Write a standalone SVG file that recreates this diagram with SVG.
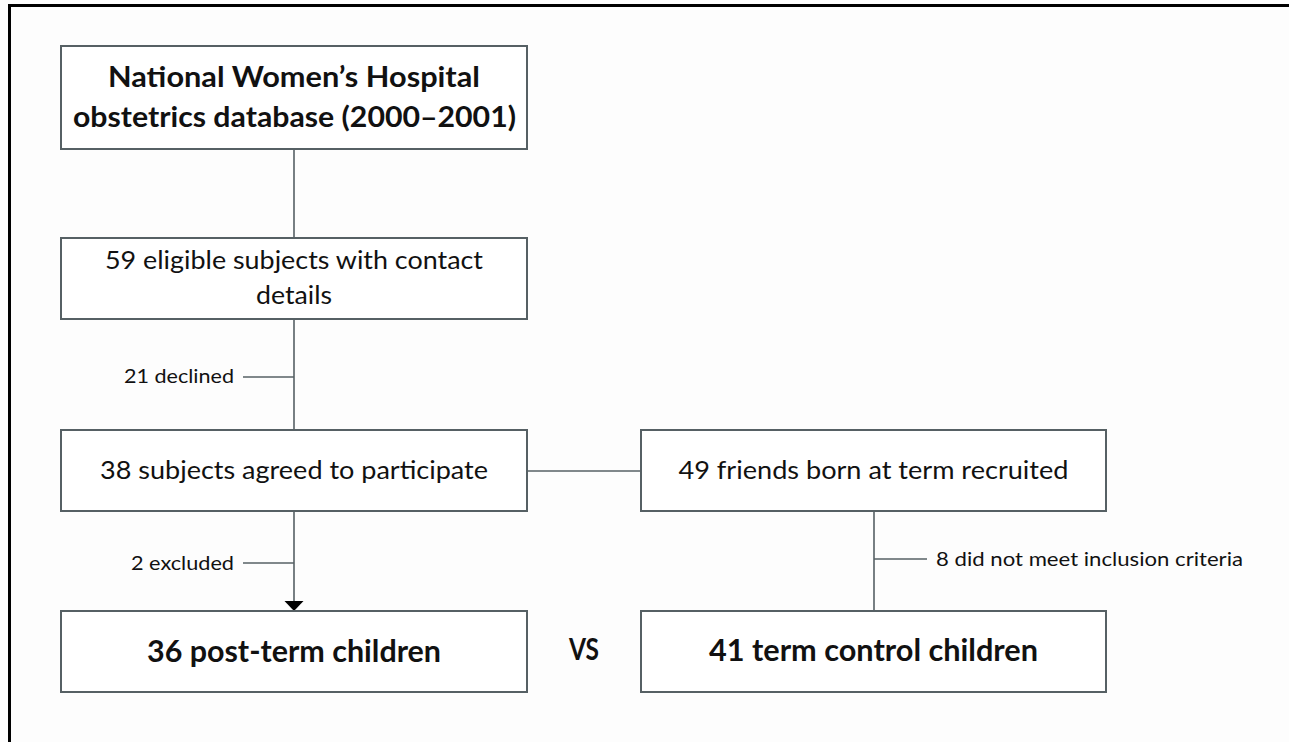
<svg xmlns="http://www.w3.org/2000/svg" width="1289" height="742" viewBox="0 0 1289 742">
<style>
.box{fill:#fff;stroke:#566064;stroke-width:2}
.ln{stroke:#566064;stroke-width:1.6;fill:none}
.t{font-family:Lato,"Open Sans","DejaVu Sans",sans-serif;fill:#111}
.b{font-weight:bold}
.m{text-anchor:middle}
.e{text-anchor:end}
.big{font-size:28px}
.reg{font-size:25px}
.sm{font-size:20px}
.hd{font-size:31px}
</style>
<rect width="1289" height="742" fill="#fdfdfd"/>
<g id="frame">
<line x1="9.5" y1="5.5" x2="1289" y2="5.5" stroke="#000" stroke-width="3"/>
<line x1="9.5" y1="4" x2="9.5" y2="742" stroke="#000" stroke-width="3"/>
</g>
<g id="connectors">
<line class="ln" x1="294" y1="149" x2="294" y2="238"/>
<line class="ln" x1="294" y1="319" x2="294" y2="430"/>
<line class="ln" x1="243" y1="377" x2="294" y2="377"/>
<line class="ln" x1="294" y1="511" x2="294" y2="602"/>
<line class="ln" x1="243" y1="563" x2="294" y2="563"/>
<polygon points="284.5,601 303.5,601 294,611" fill="#000"/>
<line class="ln" x1="527" y1="471" x2="641" y2="471"/>
<line class="ln" x1="874" y1="511" x2="874" y2="611"/>
<line class="ln" x1="874" y1="559" x2="927" y2="559"/>
</g>
<g id="n1">
<rect class="box" x="61" y="46" width="466" height="103"/>
<text class="t b m big" x="294" y="87" textLength="372" lengthAdjust="spacingAndGlyphs">National Women’s Hospital</text>
<text class="t b m big" x="294.5" y="127" textLength="443" lengthAdjust="spacingAndGlyphs">obstetrics database (2000–2001)</text>
</g>
<g id="n2">
<rect class="box" x="61" y="238" width="466" height="81"/>
<text class="t m reg" x="294" y="269" textLength="378" lengthAdjust="spacingAndGlyphs">59 eligible subjects with contact</text>
<text class="t m reg" x="294" y="304" textLength="76" lengthAdjust="spacingAndGlyphs">details</text>
</g>
<g id="l1">
<text class="t e sm" x="234" y="383" textLength="110" lengthAdjust="spacingAndGlyphs">21 declined</text>
</g>
<g id="n3">
<rect class="box" x="61" y="430" width="466" height="81"/>
<text class="t m reg" x="294" y="479" textLength="388" lengthAdjust="spacingAndGlyphs">38 subjects agreed to participate</text>
</g>
<g id="l2">
<text class="t e sm" x="234" y="570" textLength="103" lengthAdjust="spacingAndGlyphs">2 excluded</text>
</g>
<g id="n4">
<rect class="box" x="61" y="611" width="466" height="81"/>
<text class="t b m hd" x="294" y="662" textLength="294" lengthAdjust="spacingAndGlyphs">36 post-term children</text>
</g>
<g id="vs">
<text class="t b m hd" x="584" y="660" textLength="30" lengthAdjust="spacingAndGlyphs">VS</text>
</g>
<g id="n5">
<rect class="box" x="641" y="430" width="465" height="81"/>
<text class="t m reg" x="873.5" y="479" textLength="390" lengthAdjust="spacingAndGlyphs">49 friends born at term recruited</text>
</g>
<g id="l3">
<text class="t sm" x="936" y="566" textLength="307" lengthAdjust="spacingAndGlyphs">8 did not meet inclusion criteria</text>
</g>
<g id="n6">
<rect class="box" x="641" y="611" width="465" height="81"/>
<text class="t b m hd" x="873.5" y="661" textLength="329" lengthAdjust="spacingAndGlyphs">41 term control children</text>
</g>
</svg>
